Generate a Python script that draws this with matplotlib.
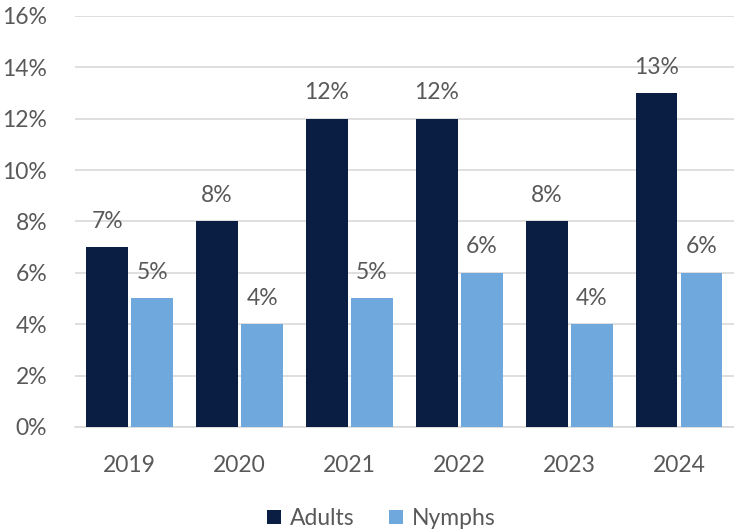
import numpy as np
import matplotlib.pyplot as plt

years = ['2019', '2020', '2021', '2022', '2023', '2024']
adults = [7, 8, 12, 12, 8, 13]
nymphs = [5, 4, 5, 6, 4, 6]

plt.rcParams['font.family'] = ['Lato', 'DejaVu Sans']
gray = '#595959'
fs = 16.5

fig = plt.figure(figsize=(7.34, 5.31), dpi=100)
ax = fig.add_axes([0.102, 0.196, 0.898, 0.774])

x = np.arange(len(years))
w = 0.38
gap = 0.03
b1 = ax.bar(x - w / 2 - gap / 2, adults, w, color='#0A1E44', label='Adults', zorder=3)
b2 = ax.bar(x + w / 2 + gap / 2, nymphs, w, color='#6FA8DC', label='Nymphs', zorder=3)

for bars, vals in ((b1, adults), (b2, nymphs)):
    for r, v in zip(bars, vals):
        ax.text(r.get_x() + r.get_width() / 2, v + 0.6, f'{v}%', ha='center', va='bottom',
                fontsize=fs, color=gray)

ax.set_xlim(-0.5, len(years) - 0.5)
ax.set_ylim(0, 16)
ax.set_yticks(range(0, 17, 2))
ax.set_yticklabels([f'{t}%' for t in range(0, 17, 2)])
ax.set_xticks(x)
ax.set_xticklabels(years)
ax.tick_params(axis='both', length=0, labelsize=fs, labelcolor=gray)
ax.tick_params(axis='x', pad=20)
ax.tick_params(axis='y', pad=20)
ax.grid(axis='y', color='#D9D9D9', linewidth=1.2, zorder=0)
for s in ['top', 'right', 'left']:
    ax.spines[s].set_visible(False)
ax.spines['bottom'].set_color('#D9D9D9')
ax.spines['bottom'].set_linewidth(1.2)

leg = fig.legend(loc='lower center', bbox_to_anchor=(0.52, -0.035), ncol=2, frameon=False,
                 fontsize=fs, handlelength=0.6, handleheight=0.6, columnspacing=1.5,
                 handletextpad=0.4)
for t in leg.get_texts():
    t.set_color(gray)

fig.savefig('out.png', dpi=100)
